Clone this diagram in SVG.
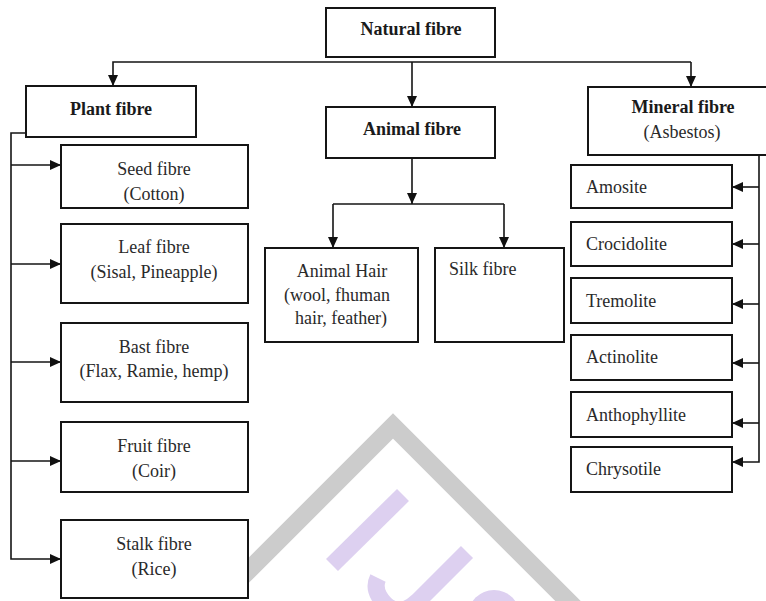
<svg xmlns="http://www.w3.org/2000/svg" width="766" height="601" viewBox="0 0 766 601">
<style>
.box{fill:#fff;stroke:#151515;stroke-width:2}
.con{fill:none;stroke:#151515;stroke-width:1.6}
.t{font-family:"Liberation Serif","Times New Roman",serif;font-size:18px;fill:#2a2a2a}
.b{font-weight:bold;fill:#1a1a1a}
.m{text-anchor:middle}
.wm-g{fill:none;stroke:#cccccc;stroke-width:18}
.wm-p{fill:none;stroke:#ddd0f0;stroke-width:17}
</style>
<defs>
<marker id="ah" markerUnits="userSpaceOnUse" markerWidth="11" markerHeight="10" refX="11" refY="5" orient="auto">
<path d="M0,0 L11,5 L0,10 z" fill="#111"/>
</marker>
</defs>
<rect width="766" height="601" fill="#fff"/>
<g id="watermark">
<polyline class="wm-g" points="240,579 393,426 590,623"/>
<line class="wm-p" x1="403" y1="495" x2="332" y2="565"/>
<path class="wm-p" d="M467,552 L418,601 Q400,618 385,604 Q372,590 378,578"/>
<circle cx="494" cy="616" r="26" fill="#ddd0f0"/>
</g>
<g id="connectors">
<path class="con" d="M691,62 H113 V86" marker-end="url(#ah)"/>
<path class="con" d="M691,62 V87" marker-end="url(#ah)"/>
<path class="con" d="M412,62 V107" marker-end="url(#ah)"/>
<path class="con" d="M412,158 V204" marker-end="url(#ah)"/>
<path class="con" d="M333,204 H504"/>
<path class="con" d="M333,204 V248" marker-end="url(#ah)"/>
<path class="con" d="M504,204 V248" marker-end="url(#ah)"/>
<path class="con" d="M26,133 H11 V559 H61" marker-end="url(#ah)"/>
<path class="con" d="M11,165 H61" marker-end="url(#ah)"/>
<path class="con" d="M11,264 H61" marker-end="url(#ah)"/>
<path class="con" d="M11,362 H61" marker-end="url(#ah)"/>
<path class="con" d="M11,461 H61" marker-end="url(#ah)"/>
<path class="con" d="M759,146 V462 H732" marker-end="url(#ah)"/>
<path class="con" d="M759,187 H732" marker-end="url(#ah)"/>
<path class="con" d="M759,244 H732" marker-end="url(#ah)"/>
<path class="con" d="M759,304 H732" marker-end="url(#ah)"/>
<path class="con" d="M759,363 H732" marker-end="url(#ah)"/>
<path class="con" d="M759,423 H732" marker-end="url(#ah)"/>
</g>
<g id="natural">
<rect class="box" x="326" y="8" width="169" height="49"/>
<text class="t b m" x="411" y="35">Natural fibre</text>
</g>
<g id="plant">
<rect class="box" x="26" y="86" width="170" height="51"/>
<text class="t b m" x="111" y="115">Plant fibre</text>
</g>
<g id="animal">
<rect class="box" x="326" y="107" width="169" height="51"/>
<text class="t b m" x="412" y="135">Animal fibre</text>
</g>
<g id="mineral">
<rect class="box" x="588" y="87" width="190" height="68"/>
<text class="t b m" x="683" y="113">Mineral fibre</text>
<text class="t m" x="682" y="138">(Asbestos)</text>
</g>
<g id="seed">
<rect class="box" x="61" y="145" width="187" height="63"/>
<text class="t m" x="154" y="175">Seed fibre</text>
<text class="t m" x="154" y="200">(Cotton)</text>
</g>
<g id="leaf">
<rect class="box" x="61" y="224" width="187" height="79"/>
<text class="t m" x="154" y="253">Leaf fibre</text>
<text class="t m" x="154" y="278">(Sisal, Pineapple)</text>
</g>
<g id="bast">
<rect class="box" x="61" y="323" width="187" height="79"/>
<text class="t m" x="154" y="353">Bast fibre</text>
<text class="t m" x="154" y="377">(Flax, Ramie, hemp)</text>
</g>
<g id="fruit">
<rect class="box" x="61" y="422" width="187" height="70"/>
<text class="t m" x="154" y="452">Fruit fibre</text>
<text class="t m" x="154" y="477">(Coir)</text>
</g>
<g id="stalk">
<rect class="box" x="61" y="520" width="187" height="78"/>
<text class="t m" x="154" y="550">Stalk fibre</text>
<text class="t m" x="154" y="575">(Rice)</text>
</g>
<g id="animal-hair">
<rect class="box" x="265" y="248" width="153" height="94"/>
<text class="t m" x="342" y="277">Animal Hair</text>
<text class="t m" x="337" y="301">(wool, fhuman</text>
<text class="t m" x="341" y="324">hair, feather)</text>
</g>
<g id="silk">
<rect class="box" x="435" y="248" width="129" height="94"/>
<text class="t" x="449" y="275">Silk fibre</text>
</g>
<g id="amosite">
<rect class="box" x="571" y="165" width="161" height="43"/>
<text class="t" x="586" y="193">Amosite</text>
</g>
<g id="crocidolite">
<rect class="box" x="571" y="222" width="161" height="44"/>
<text class="t" x="586" y="250">Crocidolite</text>
</g>
<g id="tremolite">
<rect class="box" x="571" y="278" width="161" height="45"/>
<text class="t" x="586" y="307">Tremolite</text>
</g>
<g id="actinolite">
<rect class="box" x="571" y="335" width="161" height="45"/>
<text class="t" x="586" y="363">Actinolite</text>
</g>
<g id="anthophyllite">
<rect class="box" x="571" y="392" width="161" height="45"/>
<text class="t" x="586" y="421">Anthophyllite</text>
</g>
<g id="chrysotile">
<rect class="box" x="571" y="447" width="161" height="45"/>
<text class="t" x="586" y="475">Chrysotile</text>
</g>
</svg>
